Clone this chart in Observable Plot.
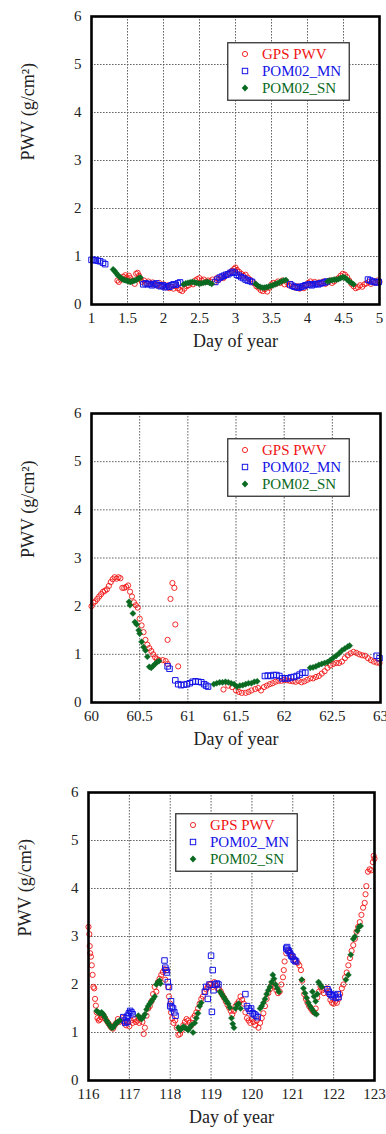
<!DOCTYPE html>
<html>
<head>
<meta charset="utf-8">
<script src="https://cdn.jsdelivr.net/npm/d3@7"></script>
<script src="https://cdn.jsdelivr.net/npm/@observablehq/plot@0.6"></script>
<style>
  html, body { margin: 0; padding: 0; background: #fff; }
  #root { width: 386px; position: relative; }
  .panel { position: relative; width: 386px; }
  .panel svg { display: block; }
  .legend { position: absolute; }
</style>
</head>
<body>
<div id="root"></div>
<script>
// ---------- data ----------
const seriesNames = ["GPS PWV", "POM02_MN", "POM02_SN"];
const yTicks = [0, 1, 2, 3, 4, 5, 6];

// Panel 1 (days 1-5)
const p1Ticks = [1, 1.5, 2, 2.5, 3, 3.5, 4, 4.5, 5];
const p1Gps = [[1.36,0.50],[1.38,0.47],[1.41,0.52],[1.44,0.58],[1.47,0.61],[1.49,0.56],[1.52,0.6],[1.54,0.55],[1.57,0.5],[1.6,0.43],[1.62,0.64],[1.64,0.66],[1.66,0.6],[1.68,0.52],[1.7,0.47],[1.73,0.5],[1.76,0.45],[1.79,0.48],[1.82,0.43],[1.85,0.46],[1.88,0.42],[1.91,0.4],[1.94,0.45],[1.97,0.38],[2.0,0.42],[2.03,0.36],[2.06,0.4],[2.08,0.34],[2.11,0.37],[2.14,0.33],[2.17,0.38],[2.2,0.34],[2.23,0.3],[2.26,0.28],[2.29,0.33],[2.32,0.38],[2.35,0.4],[2.38,0.45],[2.41,0.42],[2.44,0.5],[2.47,0.53],[2.5,0.55],[2.53,0.5],[2.56,0.52],[2.59,0.47],[2.62,0.5],[2.65,0.48],[2.68,0.52],[2.71,0.47],[2.74,0.55],[2.77,0.52],[2.8,0.57],[2.83,0.55],[2.86,0.6],[2.89,0.63],[2.92,0.66],[2.95,0.7],[2.98,0.74],[3.0,0.77],[3.02,0.72],[3.05,0.68],[3.08,0.64],[3.11,0.6],[3.14,0.62],[3.17,0.56],[3.2,0.52],[3.23,0.48],[3.26,0.44],[3.29,0.38],[3.32,0.35],[3.35,0.3],[3.38,0.28],[3.41,0.32],[3.44,0.27],[3.47,0.35],[3.5,0.42],[3.53,0.45],[3.56,0.43],[3.59,0.48],[3.62,0.45],[3.65,0.5],[3.68,0.42],[3.71,0.47],[3.74,0.4],[3.77,0.43],[3.8,0.37],[3.83,0.35],[3.86,0.38],[3.89,0.33],[3.92,0.36],[3.95,0.34],[3.98,0.39],[4.01,0.45],[4.04,0.48],[4.07,0.44],[4.1,0.47],[4.13,0.43],[4.16,0.46],[4.19,0.44],[4.22,0.48],[4.25,0.43],[4.28,0.46],[4.31,0.5],[4.34,0.45],[4.37,0.48],[4.4,0.52],[4.43,0.55],[4.46,0.6],[4.49,0.64],[4.52,0.62],[4.55,0.57],[4.58,0.5],[4.61,0.43],[4.64,0.38],[4.67,0.34],[4.7,0.36],[4.73,0.4],[4.76,0.37],[4.79,0.42],[4.82,0.44],[4.85,0.47],[4.88,0.43],[4.91,0.48],[4.94,0.45],[4.97,0.5],[5.0,0.47]];
const p1Mn = [[1.0,0.93],[1.03,0.93],[1.06,0.92],[1.09,0.91],[1.12,0.9],[1.16,0.87],[1.19,0.84],[1.72,0.42],[1.75,0.44],[1.78,0.42],[1.81,0.43],[1.84,0.4],[1.87,0.42],[1.9,0.44],[1.93,0.4],[1.96,0.38],[1.99,0.4],[2.02,0.36],[2.05,0.38],[2.08,0.37],[2.11,0.4],[2.14,0.42],[2.17,0.41],[2.2,0.44],[2.23,0.46],[2.72,0.47],[2.75,0.52],[2.78,0.56],[2.81,0.58],[2.84,0.6],[2.87,0.62],[2.9,0.63],[2.93,0.66],[2.96,0.68],[2.99,0.66],[3.02,0.62],[3.05,0.6],[3.08,0.57],[3.11,0.55],[3.14,0.52],[3.17,0.5],[3.2,0.49],[3.23,0.47],[3.76,0.42],[3.79,0.39],[3.82,0.37],[3.85,0.36],[3.88,0.35],[3.91,0.37],[3.94,0.38],[3.97,0.4],[4.0,0.41],[4.03,0.42],[4.06,0.4],[4.09,0.42],[4.12,0.43],[4.15,0.42],[4.18,0.44],[4.21,0.45],[4.24,0.46],[4.27,0.48],[4.84,0.52],[4.87,0.5],[4.9,0.48],[4.93,0.47],[4.96,0.46],[4.99,0.47]];
const p1Sn = [[1.3,0.73],[1.32,0.7],[1.34,0.66],[1.36,0.62],[1.38,0.59],[1.4,0.56],[1.42,0.54],[1.44,0.52],[1.46,0.51],[1.48,0.5],[1.5,0.49],[1.52,0.48],[1.54,0.47],[1.56,0.48],[1.58,0.49],[1.6,0.5],[1.62,0.51],[1.64,0.53],[1.66,0.55],[1.68,0.56],[2.28,0.42],[2.31,0.44],[2.34,0.45],[2.37,0.46],[2.4,0.47],[2.43,0.46],[2.46,0.45],[2.49,0.44],[2.52,0.44],[2.55,0.45],[2.58,0.46],[2.61,0.47],[2.64,0.45],[2.67,0.43],[3.28,0.43],[3.31,0.39],[3.34,0.37],[3.37,0.35],[3.4,0.35],[3.43,0.36],[3.46,0.37],[3.49,0.39],[3.52,0.4],[3.55,0.42],[3.58,0.44],[3.61,0.46],[3.64,0.48],[3.67,0.5],[3.7,0.51],[4.28,0.48],[4.31,0.5],[4.34,0.51],[4.37,0.52],[4.4,0.52],[4.43,0.53],[4.46,0.55],[4.49,0.57],[4.52,0.56],[4.55,0.52],[4.58,0.48],[4.61,0.45],[4.64,0.42]];

// Panel 2 (days 60-63)
const p2Ticks = [60, 60.5, 61, 61.5, 62, 62.5, 63];
const p2Gps = [[60.0,2.0],[60.02,2.07],[60.04,2.1],[60.06,2.15],[60.08,2.2],[60.1,2.25],[60.12,2.3],[60.14,2.32],[60.16,2.35],[60.18,2.42],[60.2,2.5],[60.22,2.56],[60.24,2.6],[60.26,2.57],[60.28,2.6],[60.3,2.58],[60.32,2.38],[60.34,2.38],[60.36,2.4],[60.38,2.43],[60.4,2.3],[60.42,2.2],[60.44,2.08],[60.46,2.02],[60.48,1.97],[60.5,1.74],[60.52,1.6],[60.54,1.46],[60.56,1.3],[60.58,1.2],[60.6,1.13],[60.62,1.07],[60.64,1.0],[60.66,0.94],[60.68,0.9],[60.7,0.88],[60.74,0.88],[60.77,0.86],[60.79,0.8],[60.79,1.3],[60.82,2.15],[60.84,2.48],[60.86,2.38],[60.87,1.62],[60.9,0.75],[61.37,0.27],[61.42,0.35],[61.46,0.32],[61.5,0.25],[61.53,0.22],[61.56,0.2],[61.6,0.2],[61.63,0.22],[61.66,0.25],[61.7,0.28],[61.73,0.3],[61.76,0.25],[61.79,0.32],[61.82,0.35],[61.85,0.38],[61.88,0.4],[61.91,0.43],[61.94,0.45],[61.97,0.45],[62.0,0.47],[62.03,0.46],[62.06,0.45],[62.09,0.44],[62.12,0.43],[62.15,0.45],[62.18,0.42],[62.21,0.44],[62.24,0.47],[62.27,0.5],[62.3,0.5],[62.33,0.53],[62.36,0.55],[62.39,0.6],[62.42,0.65],[62.45,0.72],[62.48,0.77],[62.51,0.8],[62.54,0.82],[62.57,0.82],[62.6,0.85],[62.63,0.92],[62.66,0.98],[62.69,1.02],[62.72,1.05],[62.75,1.03],[62.78,1.0],[62.81,0.98],[62.84,0.97],[62.87,0.92],[62.9,0.88],[62.93,0.85],[62.96,0.83],[62.99,0.82]];
const p2Mn = [[60.79,0.75],[60.81,0.7],[60.87,0.46],[60.9,0.38],[60.93,0.36],[60.96,0.37],[60.99,0.38],[61.02,0.4],[61.05,0.43],[61.08,0.44],[61.11,0.43],[61.14,0.42],[61.17,0.38],[61.19,0.35],[61.21,0.33],[61.8,0.55],[61.83,0.56],[61.86,0.55],[61.89,0.57],[61.92,0.57],[61.95,0.55],[61.98,0.5],[62.01,0.5],[62.04,0.5],[62.07,0.52],[62.1,0.53],[62.13,0.55],[62.16,0.58],[62.19,0.62],[62.22,0.62],[62.96,0.97],[62.99,0.92]];
const p2Sn = [[60.39,2.09],[60.4,2.02],[60.43,1.85],[60.45,1.67],[60.47,1.62],[60.49,1.5],[60.5,1.43],[60.52,1.26],[60.54,1.15],[60.56,1.08],[60.58,0.95],[60.6,0.74],[60.62,0.72],[60.64,0.76],[60.66,0.8],[60.68,0.84],[60.7,0.86],[61.27,0.38],[61.3,0.4],[61.33,0.42],[61.36,0.42],[61.39,0.43],[61.42,0.42],[61.45,0.4],[61.48,0.38],[61.51,0.33],[61.54,0.35],[61.57,0.36],[61.6,0.38],[61.63,0.4],[61.66,0.4],[61.69,0.43],[61.72,0.44],[62.27,0.72],[62.3,0.73],[62.33,0.75],[62.36,0.78],[62.39,0.8],[62.42,0.82],[62.45,0.84],[62.48,0.88],[62.51,0.93],[62.54,0.97],[62.57,1.02],[62.6,1.08],[62.63,1.12],[62.66,1.16],[62.68,1.18]];

// Panel 3 (days 116-123)
const p3Ticks = [116, 117, 118, 119, 120, 121, 122, 123];
const p3Gps = [[116.0,3.2],[116.02,3.05],[116.03,2.8],[116.04,2.65],[116.06,2.58],[116.08,2.4],[116.1,2.2],[116.12,1.95],[116.14,1.92],[116.16,1.7],[116.18,1.56],[116.2,1.42],[116.22,1.3],[116.25,1.25],[116.28,1.27],[116.31,1.32],[116.34,1.38],[116.37,1.35],[116.4,1.3],[116.44,1.25],[116.48,1.2],[116.52,1.15],[116.56,1.1],[116.6,1.08],[116.64,1.15],[116.68,1.2],[116.72,1.28],[116.76,1.22],[116.8,1.25],[116.84,1.3],[116.88,1.22],[116.92,1.15],[116.96,1.22],[117.0,1.13],[117.04,1.25],[117.08,1.2],[117.12,1.28],[117.16,1.22],[117.2,1.25],[117.24,1.2],[117.28,1.3],[117.32,1.22],[117.35,0.97],[117.38,1.1],[117.42,1.35],[117.46,1.5],[117.5,1.55],[117.54,1.65],[117.58,1.8],[117.62,1.95],[117.66,1.85],[117.7,2.05],[117.74,2.12],[117.78,2.2],[117.82,2.26],[117.86,2.32],[117.88,2.1],[117.92,2.3],[117.95,1.95],[117.97,1.75],[118.0,1.6],[118.02,1.42],[118.05,1.3],[118.08,1.2],[118.12,1.25],[118.16,1.1],[118.2,0.95],[118.24,0.97],[118.28,1.05],[118.32,1.15],[118.36,1.22],[118.4,1.28],[118.44,1.25],[118.48,1.2],[118.52,1.15],[118.56,1.3],[118.6,1.35],[118.64,1.42],[118.68,1.5],[118.72,1.6],[118.76,1.7],[118.8,1.75],[118.84,1.85],[118.88,1.9],[118.92,1.95],[118.96,2.0],[119.0,2.02],[119.04,1.95],[119.08,2.05],[119.12,1.98],[119.16,1.92],[119.2,1.9],[119.24,1.85],[119.28,1.78],[119.32,1.72],[119.36,1.65],[119.4,1.58],[119.44,1.52],[119.48,1.45],[119.52,1.38],[119.56,1.45],[119.6,1.55],[119.64,1.6],[119.68,1.65],[119.72,1.75],[119.76,1.68],[119.8,1.6],[119.84,1.42],[119.88,1.3],[119.92,1.25],[119.96,1.2],[120.0,1.28],[120.04,1.22],[120.08,1.15],[120.12,1.25],[120.16,1.1],[120.2,1.2],[120.24,1.3],[120.28,1.4],[120.32,1.55],[120.36,1.7],[120.4,1.82],[120.44,1.9],[120.48,1.98],[120.52,2.05],[120.56,1.95],[120.6,1.88],[120.64,1.82],[120.68,1.85],[120.72,2.0],[120.76,2.15],[120.78,2.3],[120.8,2.48],[120.84,2.65],[120.88,2.7],[120.92,2.68],[120.96,2.62],[121.0,2.58],[121.04,2.52],[121.08,2.48],[121.12,2.45],[121.16,2.4],[121.2,2.3],[121.23,2.08],[121.28,1.8],[121.32,1.7],[121.36,1.62],[121.4,1.55],[121.44,1.5],[121.48,1.45],[121.52,1.42],[121.56,1.5],[121.6,1.73],[121.64,1.85],[121.68,1.95],[121.72,1.88],[121.76,1.82],[121.8,1.9],[121.84,1.92],[121.88,1.8],[121.92,1.68],[121.96,1.62],[122.0,1.6],[122.04,1.65],[122.08,1.62],[122.12,1.7],[122.16,1.8],[122.2,1.92],[122.24,2.0],[122.28,2.15],[122.32,2.25],[122.36,2.4],[122.4,2.55],[122.44,2.7],[122.48,2.82],[122.52,2.95],[122.56,3.1],[122.6,3.2],[122.64,3.3],[122.68,3.45],[122.72,3.6],[122.76,3.7],[122.78,3.88],[122.8,4.05],[122.84,4.35],[122.88,4.4],[122.92,4.38],[122.96,4.55],[122.98,4.68],[123.0,4.62]];
const p3Mn = [[116.85,1.32],[116.88,1.25],[116.9,1.2],[116.93,1.3],[116.95,1.22],[116.96,1.35],[116.99,1.4],[117.02,1.45],[117.05,1.42],[117.08,1.38],[117.86,2.5],[117.88,2.35],[117.9,2.3],[117.92,2.25],[117.94,2.05],[117.97,1.95],[118.0,1.55],[118.02,1.65],[118.04,1.52],[118.07,1.5],[118.1,1.42],[118.13,1.35],[118.85,1.85],[118.88,1.95],[118.92,1.7],[118.96,2.0],[119.0,2.6],[119.02,1.43],[119.04,2.3],[119.06,1.88],[119.1,2.0],[119.14,2.02],[119.18,2.0],[119.84,1.8],[119.88,1.55],[119.92,1.5],[119.95,1.45],[119.98,1.5],[120.02,1.4],[120.06,1.38],[120.1,1.35],[120.14,1.32],[120.84,2.75],[120.86,2.78],[120.88,2.72],[120.9,2.7],[120.93,2.65],[120.96,2.6],[120.99,2.58],[121.02,2.52],[121.05,2.5],[121.08,2.48],[121.85,1.9],[121.88,1.85],[121.92,1.8],[121.95,1.78],[121.98,1.75],[122.02,1.78],[122.06,1.72],[122.1,1.8],[122.12,1.74]];
const p3Sn = [[116.2,1.45],[116.24,1.42],[116.28,1.4],[116.32,1.42],[116.36,1.38],[116.4,1.32],[116.44,1.25],[116.48,1.2],[116.52,1.15],[116.56,1.1],[116.6,1.1],[116.64,1.15],[116.68,1.2],[116.72,1.22],[116.76,1.25],[117.22,1.35],[117.26,1.3],[117.3,1.28],[117.34,1.32],[117.38,1.38],[117.42,1.48],[117.46,1.55],[117.5,1.6],[117.54,1.65],[117.58,1.7],[117.62,1.75],[117.66,2.0],[117.7,2.05],[117.74,2.08],[117.76,2.02],[118.2,1.1],[118.24,1.05],[118.28,1.08],[118.32,1.12],[118.36,1.1],[118.4,1.08],[118.44,1.05],[118.48,1.1],[118.52,1.15],[118.56,1.0],[118.6,1.2],[118.64,1.3],[118.68,1.4],[118.72,1.55],[118.76,1.62],[119.22,1.85],[119.26,1.8],[119.3,1.75],[119.34,1.7],[119.38,1.65],[119.42,1.6],[119.46,1.52],[119.5,1.3],[119.53,1.18],[119.56,1.1],[119.6,1.5],[119.64,1.58],[119.68,1.6],[119.72,1.5],[120.2,1.5],[120.24,1.55],[120.28,1.62],[120.32,1.7],[120.36,1.8],[120.4,1.88],[120.44,1.95],[120.48,2.05],[120.51,2.2],[120.54,2.12],[120.58,2.0],[120.62,1.92],[120.66,1.85],[121.22,2.1],[121.26,1.92],[121.3,1.82],[121.34,1.72],[121.38,1.62],[121.42,1.55],[121.46,1.5],[121.5,1.45],[121.54,1.4],[121.58,1.38],[121.48,1.85],[121.52,1.75],[121.56,1.65],[121.6,1.8],[121.63,2.05],[121.67,2.0],[121.71,1.95],[122.3,2.1],[122.36,2.2],[122.42,2.62],[122.48,2.95],[122.52,3.0],[122.58,3.12],[122.62,3.2],[122.66,3.22]];

// ---------- style ----------
const RED = "#f01414", BLUE = "#1414e6", GREEN = "#0b6a22";
const FONT = "'Liberation Serif', 'Times New Roman', serif";

function panel(cfg) {
  const {xDomain, xTicks, gps, mn, sn, height, mt, mb, ml, mr} = cfg;
  return Plot.plot({
    width: 386, height,
    marginTop: mt, marginBottom: mb, marginLeft: ml, marginRight: mr,
    style: {fontFamily: FONT, fontSize: "15px", color: "#222", background: "white", overflow: "visible"},
    x: {domain: xDomain},
    y: {domain: [0, 6]},
    marks: [
      Plot.gridX(xTicks, {stroke: "#555", strokeOpacity: 1, strokeWidth: 0.9, strokeDasharray: "1.6,1.4"}),
      Plot.gridY(yTicks, {stroke: "#555", strokeOpacity: 1, strokeWidth: 0.9, strokeDasharray: "1.6,1.4"}),
      Plot.axisX(xTicks, {tickSize: 0, tickPadding: 8, label: null, fontSize: 15, tickFormat: d => String(d)}),
      Plot.axisY(yTicks, {tickSize: 0, tickPadding: 10, label: null, fontSize: 15, tickFormat: d => String(d)}),
      Plot.dot(gps, {x: d => d[0], y: d => d[1], symbol: "circle", r: 2.6, stroke: RED, strokeWidth: 0.9, fill: "none"}),
      Plot.dot(mn, {x: d => d[0], y: d => d[1], symbol: "square", r: 3.1, stroke: BLUE, strokeWidth: 1, fill: "none"}),
      Plot.dot(sn, {x: d => d[0], y: d => d[1], symbol: "diamond2", r: 2.8, fill: GREEN, stroke: GREEN, strokeWidth: 0.4}),
      Plot.frame({stroke: "#000", strokeWidth: 2.6}),
      Plot.text(["Day of year"], {frameAnchor: "bottom", dy: 42, fontSize: 18, fill: "#222"}),
      Plot.text(["PWV (g/cm²)"], {frameAnchor: "left", dx: -63, rotate: -90, fontSize: 18, fill: "#222"})
    ]
  });
}

function legend(left, top) {
  const colors = [RED, BLUE, GREEN];
  const w = 123, h = 59;
  const symbols = [
    `<circle cx="18" cy="12" r="2.6" fill="none" stroke="${RED}" stroke-width="0.9"/>`,
    `<rect x="15.3" y="26.3" width="5.4" height="5.4" fill="none" stroke="${BLUE}" stroke-width="1"/>`,
    `<path d="M18,42.4 L21.3,46 L18,49.6 L14.7,46 Z" fill="${GREEN}"/>`
  ];
  let s = `<svg class="legend" style="left:${left}px;top:${top}px" width="${w}" height="${h}" xmlns="http://www.w3.org/2000/svg">`;
  s += `<rect x="0.75" y="0.75" width="${w - 1.5}" height="${h - 1.5}" fill="#fff" stroke="#333" stroke-width="1.3"/>`;
  seriesNames.forEach((name, i) => {
    s += symbols[i];
    s += `<text x="35" y="${12 + 17 * i}" dy="0.36em" fill="${colors[i]}" font-family="${FONT.replace(/'/g, "")}" font-size="15">${name}</text>`;
  });
  s += `</svg>`;
  return s;
}

const root = document.getElementById("root");
const configs = [
  {xDomain: [1, 5], xTicks: p1Ticks, gps: p1Gps, mn: p1Mn, sn: p1Sn, height: 372, mt: 16, mb: 68, ml: 91, mr: 7, leg: [227, 42]},
  {xDomain: [60, 63], xTicks: p2Ticks, gps: p2Gps, mn: p2Mn, sn: p2Sn, height: 380, mt: 41, mb: 50, ml: 91, mr: 6, leg: [227, 66]},
  {xDomain: [116, 123], xTicks: p3Ticks, gps: p3Gps, mn: p3Mn, sn: p3Sn, height: 382, mt: 40, mb: 54, ml: 88, mr: 12, leg: [175, 61]}
];
configs.forEach(cfg => {
  const wrap = document.createElement("div");
  wrap.className = "panel";
  wrap.appendChild(panel(cfg));
  wrap.insertAdjacentHTML("beforeend", legend(cfg.leg[0], cfg.leg[1]));
  root.appendChild(wrap);
});
</script>
</body>
</html>
